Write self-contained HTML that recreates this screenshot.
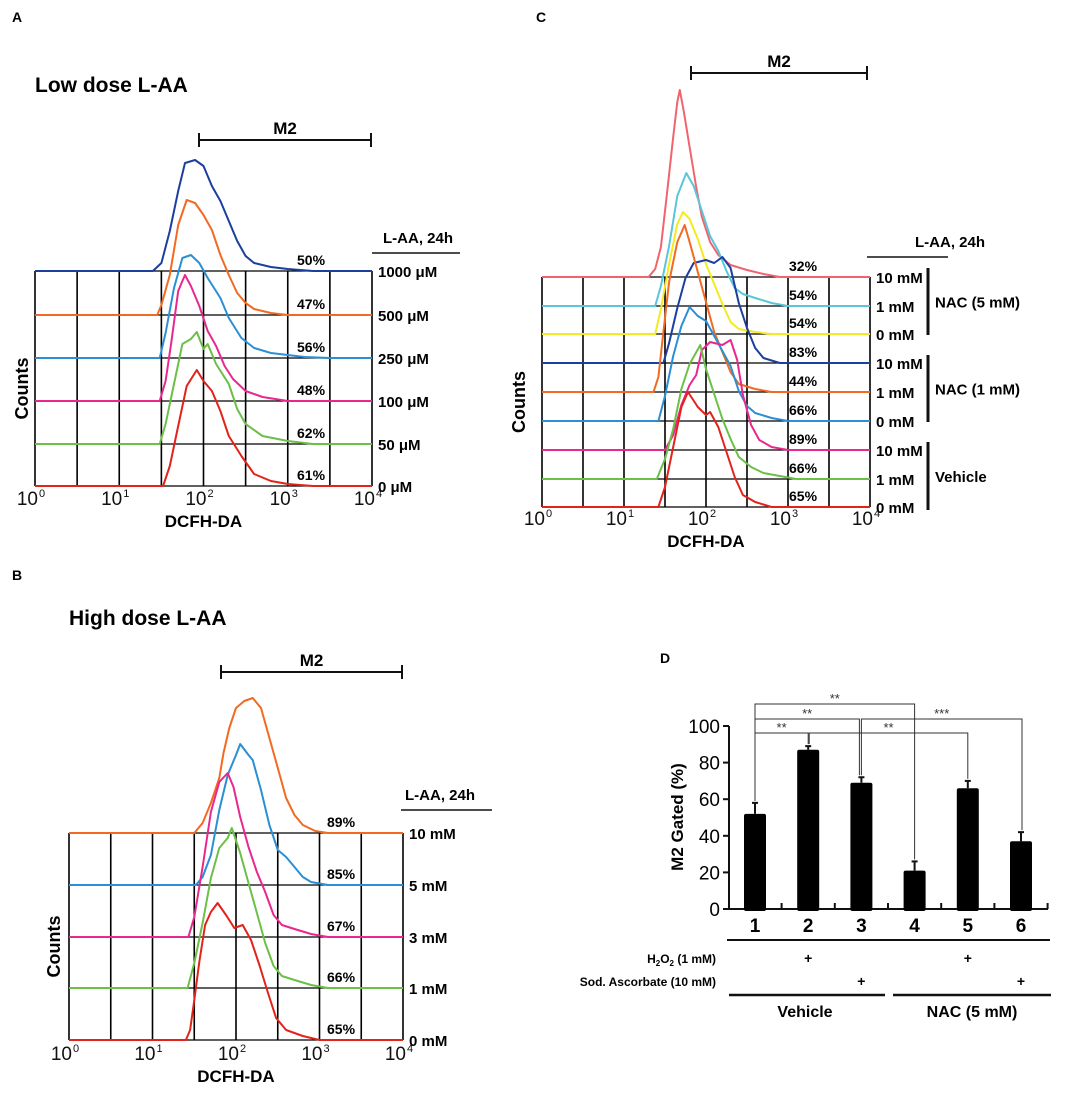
<!DOCTYPE html>
<html><head><meta charset="utf-8"><style>
html,body{margin:0;padding:0;background:#fff;}
svg{display:block;font-family:"Liberation Sans",Arial,sans-serif;}
</style></head><body>
<svg id="fig" width="1084" height="1093" viewBox="0 0 1084 1093" xmlns="http://www.w3.org/2000/svg">
<g id="root"></g>
</svg>
<script>
// ---------- Panel A data (log10 intensity, counts) ----------
const aLabels = ["1000 \u03bcM","500 \u03bcM","250 \u03bcM","100 \u03bcM","50 \u03bcM","0 \u03bcM"];
const aPercents = ["50%","47%","56%","48%","62%","61%"];
const aSeries1000 = [[1.4,0],[1.5,8],[1.6,40],[1.7,80],[1.78,108],[1.9,111],[2.0,105],[2.1,85],[2.2,70],[2.3,50],[2.4,30],[2.5,15],[2.6,8],[2.8,4],[3.0,2],[3.3,0]];
const aSeries500 = [[1.45,0],[1.5,10],[1.6,40],[1.7,90],[1.8,115],[1.9,112],[2.0,100],[2.1,85],[2.2,60],[2.3,40],[2.4,22],[2.5,12],[2.6,6],[2.8,2],[3.0,0]];
const aSeries250 = [[1.48,0],[1.55,25],[1.65,70],[1.75,100],[1.85,103],[1.95,95],[2.05,80],[2.2,60],[2.3,40],[2.45,20],[2.6,10],[2.8,5],[3.2,1],[3.5,0]];
const aSeries100 = [[1.48,0],[1.55,20],[1.62,60],[1.7,110],[1.78,126],[1.85,115],[1.95,95],[2.05,70],[2.15,55],[2.25,35],[2.35,22],[2.5,10],[2.7,4],[3.0,0]];
const aSeries50 = [[1.48,0],[1.55,20],[1.65,60],[1.75,100],[1.85,105],[1.92,112],[2.0,95],[2.05,100],[2.15,80],[2.3,60],[2.4,35],[2.5,20],[2.7,8],[3.0,3],[3.3,0]];
const aSeries0 = [[1.52,0],[1.6,20],[1.7,60],[1.8,100],[1.92,116],[2.0,105],[2.1,95],[2.2,75],[2.3,50],[2.45,30],[2.6,12],[2.8,5],[3.0,2],[3.3,0]];

// ---------- Panel B data ----------
const bLabels = ["10 mM","5 mM","3 mM","1 mM","0 mM"];
const bPercents = ["89%","85%","67%","66%","65%"];
const bSeries10 = [[1.5,0],[1.6,10],[1.7,30],[1.8,55],[1.85,80],[1.92,105],[2.0,125],[2.1,132],[2.2,135],[2.3,125],[2.4,95],[2.5,65],[2.6,35],[2.7,18],[2.8,8],[2.95,2],[3.1,0]];
const bSeries5 = [[1.52,0],[1.6,8],[1.7,30],[1.8,75],[1.9,110],[2.0,130],[2.05,141],[2.15,130],[2.2,125],[2.3,95],[2.4,60],[2.5,35],[2.6,28],[2.7,18],[2.8,8],[2.9,3],[3.1,0]];
const bSeries3 = [[1.43,0],[1.5,20],[1.6,70],[1.7,125],[1.8,155],[1.9,164],[1.97,150],[2.05,120],[2.15,90],[2.25,65],[2.35,45],[2.45,22],[2.55,12],[2.7,8],[2.9,3],[3.1,0]];
const bSeries1 = [[1.42,0],[1.5,25],[1.6,65],[1.7,110],[1.8,140],[1.9,150],[1.95,160],[2.05,135],[2.15,105],[2.25,75],[2.35,45],[2.45,22],[2.55,12],[2.7,8],[2.9,3],[3.1,0]];
const bSeries0 = [[1.4,0],[1.45,10],[1.5,40],[1.56,78],[1.63,115],[1.7,128],[1.78,137],[1.88,125],[1.98,112],[2.08,115],[2.18,100],[2.28,75],[2.38,48],[2.48,22],[2.6,10],[2.8,4],[3.0,0]];

// ---------- Panel C data ----------
const cLabels = ["10 mM","1 mM","0 mM","10 mM","1 mM","0 mM","10 mM","1 mM","0 mM"];
const cPercents = ["32%","54%","54%","83%","44%","66%","89%","66%","65%"];
const cGroups = ["NAC (5 mM)","NAC (1 mM)","Vehicle"];
const cNac5_10 = [[1.3,0],[1.38,8],[1.45,30],[1.52,80],[1.6,140],[1.65,175],[1.68,187],[1.73,165],[1.8,130],[1.88,90],[1.95,60],[2.05,35],[2.15,22],[2.3,12],[2.5,7],[2.7,3],[2.9,0]];
const cNac5_1 = [[1.38,0],[1.45,20],[1.55,60],[1.65,110],[1.76,133],[1.85,120],[1.95,95],[2.05,70],[2.15,55],[2.25,35],[2.35,18],[2.45,12],[2.6,8],[2.8,3],[3.0,0]];
const cNac5_0 = [[1.38,0],[1.45,25],[1.55,70],[1.65,110],[1.72,122],[1.8,115],[1.9,95],[2.0,70],[2.1,50],[2.2,30],[2.3,12],[2.4,5],[2.6,2],[2.8,0]];
const cNac1_10 = [[1.48,0],[1.55,20],[1.65,55],[1.75,85],[1.85,100],[2.0,103],[2.1,100],[2.2,106],[2.3,95],[2.4,60],[2.5,35],[2.6,15],[2.7,5],[2.9,0]];
const cNac1_1 = [[1.36,0],[1.42,15],[1.48,60],[1.55,110],[1.65,150],[1.74,167],[1.8,150],[1.9,120],[2.0,90],[2.1,60],[2.2,40],[2.3,20],[2.4,8],[2.6,3],[2.8,0]];
const cNac1_0 = [[1.42,0],[1.5,25],[1.6,65],[1.7,95],[1.8,114],[1.9,105],[2.0,100],[2.1,85],[2.2,70],[2.3,55],[2.4,30],[2.5,15],[2.6,8],[2.8,3],[3.0,0]];
const cVeh_10 = [[1.5,0],[1.6,15],[1.7,45],[1.8,65],[1.88,75],[1.95,100],[2.05,108],[2.2,105],[2.3,110],[2.38,90],[2.45,55],[2.55,25],[2.65,10],[2.8,3],[3.0,0]];
const cVeh_1 = [[1.4,0],[1.5,20],[1.6,50],[1.7,90],[1.8,115],[1.93,134],[2.0,110],[2.1,85],[2.2,60],[2.3,40],[2.4,22],[2.55,12],[2.7,6],[2.9,3],[3.1,0]];
const cVeh_0 = [[1.42,0],[1.5,20],[1.6,60],[1.7,100],[1.78,115],[1.9,100],[2.0,92],[2.05,95],[2.15,80],[2.25,55],[2.35,30],[2.45,12],[2.6,5],[2.8,0]];

// ---------- Panel D data ----------
const dCategories = ["1","2","3","4","5","6"];
const dValues = [52,87,69,21,66,37];
const dErrors = [6,2,3,5,4,5];
const dYTicks = [0,20,40,60,80,100];
const dH2O2 = ["","+","","","+",""];
const dAsc = ["","","+","","","+"];
const dSigPairs = [[0,3],[0,2],[0,1],[2,5],[1,4]];
const dSigLabels = ["**","**","**","***","**"];
const dSigLevels = [2,1,0,1,0];

// ---------- helpers ----------
const NS = "http://www.w3.org/2000/svg";
const root = document.getElementById('root');
function mk(tag, attrs, parent){ const e=document.createElementNS(NS,tag); for(const k in attrs) e.setAttribute(k,attrs[k]); (parent||root).appendChild(e); return e; }
function txt(s, attrs, parent){ const e=mk('text',attrs,parent); e.textContent=s; return e; }

function drawPanel(p){
  const g = mk('g',{});
  
  
  const xs = v => p.x0 + v*p.dec;
  const x1 = xs(4);
  const top = p.bases[0], bot = p.bases[p.bases.length-1];
  const grid = mk('g',{stroke:'#000','stroke-width':1.6},g);
  
  
  for(let i=0;i<=8;i++){ const x=xs(i/2); mk('line',{x1:x,y1:top,x2:x,y2:bot},grid); }
  p.bases.forEach(b=>mk('line',{x1:p.x0,y1:b,x2:x1,y2:b,'stroke-width':1.2},grid));
  for(let d=0;d<=4;d++){
    const t = txt('10',{x:xs(d)-4,y:p.tickY,'font-size':19,'text-anchor':'middle',fill:'#111'},g);
     
    const s = mk('tspan',{dx:1,dy:-8,'font-size':11},t); s.textContent=String(d);
  }
  const xl = txt('DCFH-DA',{x:xs(2),y:p.tickY+22,'font-size':17,'font-weight':'bold','text-anchor':'middle'},g);
   
  const cy=(top+bot)/2+10;
  const yl = txt('Counts',{x:p.countsX,y:cy,'font-size':18,'font-weight':'bold','text-anchor':'middle',transform:`rotate(-90 ${p.countsX} ${cy})`},g);
   
  p.series.forEach((s,i)=>{
    const b=p.bases[i];
    let pts=[[p.x0,b]];
    s.forEach(([lx,c])=>pts.push([xs(lx),b-c]));
    pts.push([x1,b]);
    const pl = mk('polyline',{points:pts.map(q=>q[0].toFixed(1)+','+q[1].toFixed(1)).join(' '),fill:'none',stroke:p.colors[i],'stroke-width':2,'stroke-linejoin':'round'},g);
    
    
    const pc = txt(p.percents[i],{x:p.pctX,y:b-6,'font-size':14,'font-weight':'bold'},g);
     
    const dl = txt(p.labels[i],{x:x1+6,y:b+6,'font-size':15,'font-weight':'bold'},g);
     
  });
  const m = mk('g',{stroke:'#111','stroke-width':2},g);
   
  mk('line',{x1:p.m2[0],y1:p.m2y,x2:p.m2[1],y2:p.m2y},m);
  mk('line',{x1:p.m2[0],y1:p.m2y-7,x2:p.m2[0],y2:p.m2y+7},m);
  mk('line',{x1:p.m2[1],y1:p.m2y-7,x2:p.m2[1],y2:p.m2y+7},m);
  const mt = txt('M2',{x:(p.m2[0]+p.m2[1])/2,y:p.m2y-6,'font-size':17,'font-weight':'bold','text-anchor':'middle'},g);
   
  const lh = txt('L-AA, 24h',{x:p.hdrX,y:p.hdrY,'font-size':15,'font-weight':'bold'},g);
   
  mk('line',{x1:p.hdrLine[0],y1:p.hdrY+10,x2:p.hdrLine[1],y2:p.hdrY+10,stroke:'#111','stroke-width':1.6},g);
  if(p.title){
    const tt = txt(p.title,{x:p.x0,y:p.titleY,'font-size':21,'font-weight':'bold'},g);
     
  }
  const pl2 = txt(p.letter,{x:p.letterPos[0],y:p.letterPos[1],'font-size':14,'font-weight':'bold'},g);
   
  return g;
}

drawPanel({name:'panel-a',letter:'A',letterPos:[12,22],title:'Low dose L-AA',titleY:92,x0:35,dec:84.25,
  bases:[271,315,358,401,444,486],tickY:505,countsX:28,
  series:[aSeries1000,aSeries500,aSeries250,aSeries100,aSeries50,aSeries0],
  colors:['#1c3f9e','#f26a21','#2a8fd4','#e8288e','#6cbf47','#e2231a'],
  labels:aLabels,percents:aPercents,pctX:297,m2:[199,371],m2y:140,hdrX:383,hdrY:243,hdrLine:[372,460]});

drawPanel({name:'panel-b',letter:'B',letterPos:[12,580],title:'High dose L-AA',titleY:625,x0:69,dec:83.5,
  bases:[833,885,937,988,1040],tickY:1060,countsX:60,
  series:[bSeries10,bSeries5,bSeries3,bSeries1,bSeries0],
  colors:['#f26a21','#2a8fd4','#e8288e','#6cbf47','#e2231a'],
  labels:bLabels,percents:bPercents,pctX:327,m2:[221,402],m2y:672,hdrX:405,hdrY:800,hdrLine:[401,492]});

drawPanel({name:'panel-c',letter:'C',letterPos:[536,22],title:null,x0:542,dec:82,
  bases:[277,306,334,363,392,421,450,479,507],tickY:525,countsX:525,
  series:[cNac5_10,cNac5_1,cNac5_0,cNac1_10,cNac1_1,cNac1_0,cVeh_10,cVeh_1,cVeh_0],
  colors:['#f0646e','#5ac6d8','#f3ea1f','#1c3f9e','#f26a21','#2a8fd4','#e8288e','#6cbf47','#e2231a'],
  labels:cLabels,percents:cPercents,pctX:789,m2:[691,867],m2y:73,hdrX:915,hdrY:247,hdrLine:[867,948]});

(function(){
  const g = mk('g',{});
   
  const spans=[[268,335],[355,422],[442,510]];
  cGroups.forEach((name,i)=>{
    mk('line',{x1:928,y1:spans[i][0],x2:928,y2:spans[i][1],stroke:'#111','stroke-width':3},g);
    const t = txt(name,{x:935,y:(spans[i][0]+spans[i][1])/2+6,'font-size':15,'font-weight':'bold'},g);
     
  });
})();

// ---------- Panel D ----------
(function(){
  const g = mk('g',{});
   
  const y0=909, y100=726, xAx=729, xEnd=1048, step=53.2, first=755;
  const ys = v => y0 - (y0-y100)*v/100;
  const xc = i => first + i*step;
  const lt = txt('D',{x:660,y:663,'font-size':14,'font-weight':'bold'},g);
   
  mk('line',{x1:xAx,y1:y100,x2:xAx,y2:y0+1,stroke:'#111','stroke-width':2},g);
  mk('line',{x1:xAx-1,y1:y0,x2:xEnd,y2:y0,stroke:'#111','stroke-width':2},g);
  dYTicks.forEach(v=>{
    mk('line',{x1:xAx-6,y1:ys(v),x2:xAx,y2:ys(v),stroke:'#111','stroke-width':2},g);
    const t = txt(String(v),{x:xAx-9,y:ys(v)+7,'font-size':19,'text-anchor':'end'},g);
     
  });
  for(let i=0;i<dCategories.length;i++){
    const x=xc(i)+step/2;
    mk('line',{x1:x,y1:y0-6,x2:x,y2:y0,stroke:'#111','stroke-width':2},g);
  }
  const yt = txt('M2 Gated (%)',{x:683,y:817,'font-size':17,'font-weight':'bold','text-anchor':'middle',transform:'rotate(-90 683 817)'},g);
   
  dCategories.forEach((c,i)=>{
    const x=xc(i), top=ys(dValues[i]), et=ys(dValues[i]+dErrors[i]);
    mk('line',{x1:x,y1:top,x2:x,y2:et,stroke:'#111','stroke-width':2},g);
    mk('line',{x1:x-3,y1:et,x2:x+3,y2:et,stroke:'#111','stroke-width':2},g);
    const r = mk('rect',{x:x-11,y:top,width:22,height:y0-top+2,rx:2,fill:'#000'},g);
     
    const t = txt(c,{x:x,y:932,'font-size':19,'font-weight':'bold','text-anchor':'middle'},g);
     
    if(dH2O2[i]) txt(dH2O2[i],{x:x,y:963,'font-size':14,'font-weight':'bold','text-anchor':'middle'},g);
    if(dAsc[i]) txt(dAsc[i],{x:x,y:986,'font-size':14,'font-weight':'bold','text-anchor':'middle'},g);
  });
  mk('line',{x1:727,y1:940,x2:1050,y2:940,stroke:'#111','stroke-width':2},g);
  const t1 = mk('text',{x:716,y:963,'font-size':12,'font-weight':'bold','text-anchor':'end'},g);
   
  t1.appendChild(document.createTextNode('H'));
  const sub=mk('tspan',{'font-size':8,dy:3},t1); sub.textContent='2';
  const o=mk('tspan',{dy:-3},t1); o.textContent='O';
  const sub2=mk('tspan',{'font-size':8,dy:3},t1); sub2.textContent='2';
  const rest=mk('tspan',{dy:-3},t1); rest.textContent=' (1 mM)';
  const t2 = txt('Sod. Ascorbate (10 mM)',{x:716,y:986,'font-size':12,'font-weight':'bold','text-anchor':'end'},g);
   
  mk('line',{x1:729,y1:995,x2:885,y2:995,stroke:'#111','stroke-width':2.5},g);
  mk('line',{x1:893,y1:995,x2:1051,y2:995,stroke:'#111','stroke-width':2.5},g);
  const v1 = txt('Vehicle',{x:805,y:1017,'font-size':16,'font-weight':'bold','text-anchor':'middle'},g);
   
  const v2 = txt('NAC (5 mM)',{x:972,y:1017,'font-size':16,'font-weight':'bold','text-anchor':'middle'},g);
   
  const levelY=[733,719,704];
  dSigPairs.forEach(([a,b],k)=>{
    const yb=levelY[dSigLevels[k]];
    const xa=xc(a)+(dSigLevels[k]===0&&a===1?1:0), xb=xc(b)+(k===1?-2:0)+(k===3&&a===2?1:0);
    const ea=ys(dValues[a]+dErrors[a])-2, eb=ys(dValues[b]+dErrors[b])-2;
    const pl = mk('polyline',{points:`${xa},${ea} ${xa},${yb} ${xb},${yb} ${xb},${eb}`,fill:'none',stroke:'#333','stroke-width':1},g);
     
    const st = txt(dSigLabels[k],{x:(xa+xb)/2,y:yb-1,'font-size':13,'text-anchor':'middle',fill:'#333'},g);
     
  });
})();
</script>
</body></html>
